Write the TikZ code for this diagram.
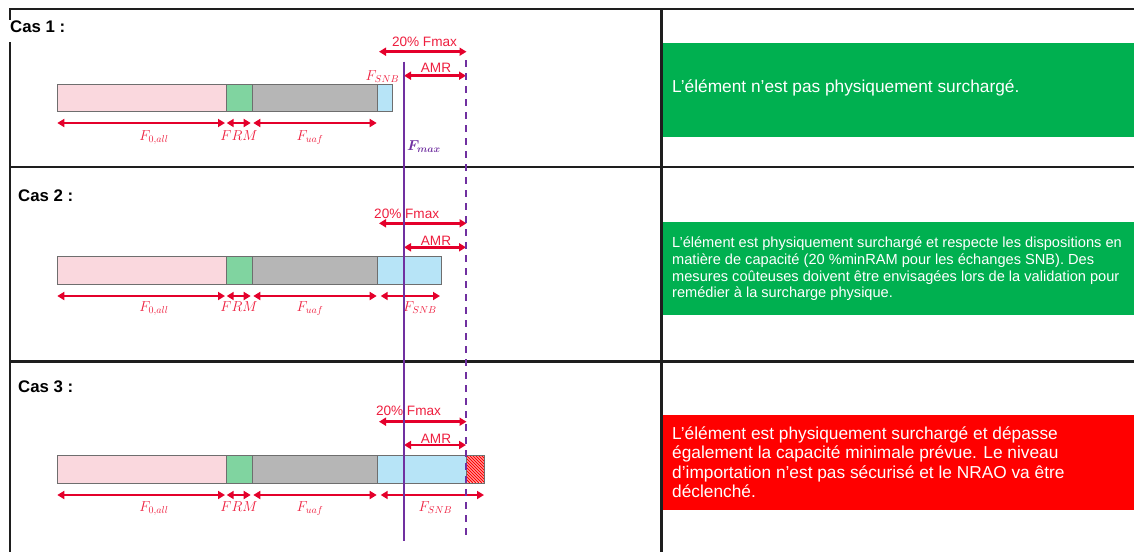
\documentclass[tikz,border=0pt]{standalone}
\usepackage{amsmath}
\usepackage{fontspec}
\setmainfont{Liberation Sans}
\usetikzlibrary{arrows.meta}
\definecolor{arrowred}{RGB}{228,0,43}
\definecolor{labelred}{RGB}{238,30,62}
\definecolor{fmaxpurple}{RGB}{112,48,160}
\definecolor{barpink}{RGB}{250,216,222}
\definecolor{bargreen}{RGB}{128,212,160}
\definecolor{bargray}{RGB}{182,182,182}
\definecolor{barblue}{RGB}{183,228,247}
\definecolor{boxgreen}{RGB}{0,176,80}
\definecolor{boxred}{RGB}{255,0,0}
\definecolor{rulecol}{RGB}{30,30,30}
\definecolor{edgegray}{RGB}{110,110,110}

\begin{document}
\begin{tikzpicture}[x=1pt,y=-1pt,
  tablerule/.style={draw=rulecol,line width=2.3pt},
  seg/.style={draw=edgegray,line width=0.8pt},
  dim/.style={draw=arrowred,line width=2.6pt,{Triangle[length=7pt,width=8pt]}-{Triangle[length=7pt,width=8pt]}},
  mathlbl/.style={text=labelred,font=\fontsize{14}{16}\selectfont,inner sep=0pt,anchor=base},
  fmaxlbl/.style={text=fmaxpurple,font=\fontsize{14.5}{16}\selectfont,inner sep=0pt,anchor=base},
  txtlbl/.style={text=labelred,font=\fontsize{13.6}{16}\selectfont,inner sep=0pt,anchor=base},
  castitle/.style={font=\bfseries\fontsize{16.8}{19}\selectfont,inner sep=0pt,anchor=west},
  fmaxline/.style={draw=fmaxpurple,line width=2.2pt},
  amrline/.style={draw=fmaxpurple,line width=2.2pt,dash pattern=on 7pt off 6pt},
  verdict/.style={inner sep=0pt,anchor=base west,text=white}
]
\useasboundingbox (0,0) rectangle (1134,552);

% table rules
\draw[tablerule] (10,9.3) -- (1134,9.3);
\draw[tablerule] (10,167) -- (1134,167);
\draw[tablerule] (10,361.5) -- (1134,361.5);
\draw[tablerule] (10,8.3) -- (10,20);
\draw[tablerule] (10,42) -- (10,552);
\draw[tablerule] (661.5,8.3) -- (661.5,552);

% case titles
\node[castitle] (cas1) at (10,27) {Cas 1 :};
\node[castitle] (cas2) at (18,195.4) {Cas 2 :};
\node[castitle] (cas3) at (18,387) {Cas 3 :};

% common bar segments, dimension arrows and labels
\foreach \c/\yt/\yb/\ya/\yl in {1/84/111/123/140, 2/256/284/296/311.7, 3/455/483/495/511}{
  \path[seg,fill=barpink] (57.3,\yt) rectangle (226,\yb);
  \path[seg,fill=bargreen] (226,\yt) rectangle (252.3,\yb);
  \path[seg,fill=bargray] (252.3,\yt) rectangle (377.7,\yb);
  \coordinate (a\c) at (57.3,\ya);
  \coordinate (b\c) at (225,\ya);
  \coordinate (c\c) at (226.7,\ya);
  \coordinate (d\c) at (250.7,\ya);
  \coordinate (e\c) at (253.3,\ya);
  \coordinate (f\c) at (376.7,\ya);
  \draw[dim] (a\c) -- (b\c);
  \draw[dim] (c\c) -- (d\c);
  \draw[dim] (e\c) -- (f\c);
  \node[mathlbl] (fzero\c) at (154,\yl) {$F_{0,all}$};
  \node[mathlbl] (frm\c) at (239,\yl) {$FRM$};
  \node[mathlbl] (fuaf\c) at (310,\yl) {$F_{uaf}$};
}

% SNB segments
\path[seg,fill=barblue] (377.7,84) rectangle (392,111);
\path[seg,fill=barblue] (377.7,256) rectangle (441.7,284);
\path[seg,fill=barblue] (377.7,455) rectangle (466,483);
\begin{scope}
  \clip (466,455) rectangle (484,483);
  \fill[white] (466,455) rectangle (484,483);
  \foreach \k in {-30,-27,...,18}{
    \draw[boxred,line width=1.1pt] (466+\k,455) -- (494+\k,483);
  }
\end{scope}
\draw[edgegray,line width=0.8pt] (466,455) rectangle (484,483);

\node[mathlbl] (fsnb1) at (382.5,80) {$F_{SNB}$};
\coordinate (g2) at (380.7,296);
\coordinate (h2) at (440,296);
\draw[dim] (g2) -- (h2);
\node[mathlbl] (fsnb2) at (420,311.7) {$F_{SNB}$};
\coordinate (g3) at (380.7,495);
\coordinate (h3) at (484,495);
\draw[dim] (g3) -- (h3);
\node[mathlbl] (fsnb3) at (435.5,511) {$F_{SNB}$};

% margin arrows: 20% Fmax and AMR
\foreach \c/\yp/\xp/\yq/\ym/\yn in {1/51.7/424.5/46.7/75.7/72.3, 2/223.3/406.7/218.3/247.3/245, 3/421.7/408.5/415/445/443.3}{
  \coordinate (p\c) at (379,\yp);
  \coordinate (q\c) at (466.5,\yp);
  \coordinate (m\c) at (404,\ym);
  \coordinate (n\c) at (466,\ym);
  \node[txtlbl] (pct\c) at (\xp,\yq) {20\% Fmax};
  \node[txtlbl] (amr\c) at (436,\yn) {AMR};
  \draw[dim] (p\c) -- (q\c);
  \draw[dim] (m\c) -- (n\c);
}

% Fmax line and its margin limit
\coordinate (fmaxtop) at (404,61.7);
\coordinate (fmaxbot) at (404,541);
\coordinate (limtop) at (466.3,60);
\coordinate (limbot) at (466.3,540);
\draw[fmaxline] (fmaxtop) -- (fmaxbot);
\draw[amrline] (limtop) -- (limbot);
\node[fmaxlbl] (fmaxtext) at (424,150.7) {$\boldsymbol{F_{max}}$};

% verdicts
\fill[boxgreen] (663,42.7) rectangle (1134,136.7);
\node[verdict] (v1) at (672,92.5) {\parbox[t]{470pt}{\raggedright\fontsize{17.3}{19.6}\selectfont
L’élément n’est pas physiquement surchargé.}};

\fill[boxgreen] (663,221.7) rectangle (1134,315);
\node[verdict] (v2) at (672,247.7) {\parbox[t]{470pt}{\raggedright\fontsize{14.6}{16.7}\selectfont
L’élément est physiquement surchargé et respecte les dispositions en\\
matière de capacité (20 \%minRAM pour les échanges SNB). Des\\
mesures coûteuses doivent être envisagées lors de la validation pour\\
remédier à la surcharge physique.}};

\fill[boxred] (663,415) rectangle (1134,510);
\node[verdict] (v3) at (672,439) {\parbox[t]{470pt}{\raggedright\fontsize{17.3}{19.6}\selectfont
L’élément est physiquement surchargé et dépasse\\
également la capacité minimale prévue. Le niveau\\
d’importation n’est pas sécurisé et le NRAO va être\\
déclenché.}};
\end{tikzpicture}
\end{document}
